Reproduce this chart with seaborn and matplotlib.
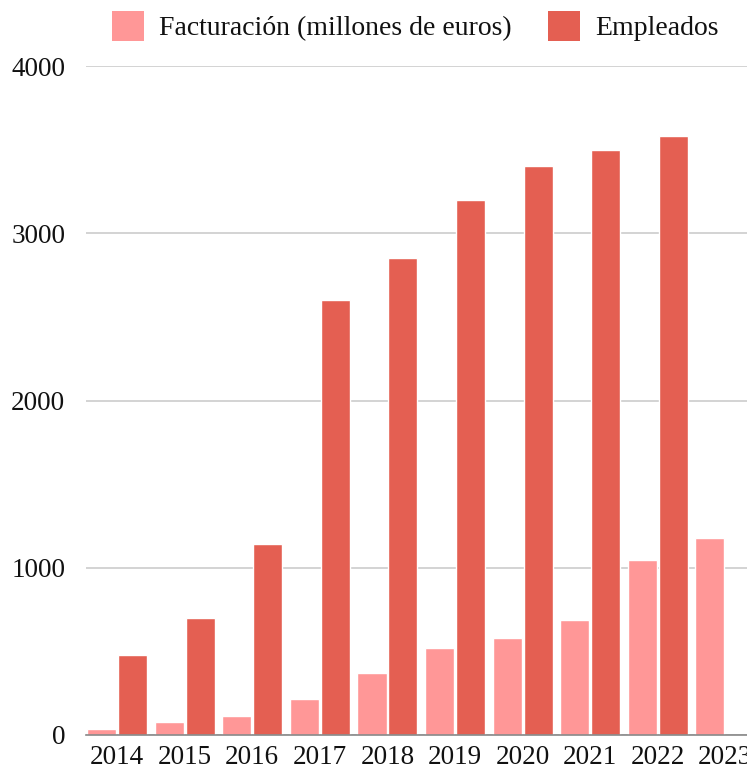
import numpy as np
import pandas as pd
import matplotlib
matplotlib.use("Agg")
import matplotlib.pyplot as plt
import seaborn as sns
from matplotlib.patches import Patch

years = ["2014", "2015", "2016", "2017", "2018", "2019", "2020", "2021", "2022", "2023"]
facturacion = [35, 75, 115, 215, 370, 520, 580, 690, 1045, 1180]
empleados = [480, 700, 1140, 2600, 2855, 3200, 3400, 3500, 3580, np.nan]
series_names = ["Facturación (millones de euros)", "Empleados"]
colors = ["#FF9797", "#E45F52"]
yticks = [0, 1000, 2000, 3000, 4000]

df = pd.DataFrame({
    "year": years * 2,
    "value": facturacion + empleados,
    "serie": [series_names[0]] * len(years) + [series_names[1]] * len(years),
})

sns.set_theme(style="white")
plt.rcParams["font.family"] = ["Liberation Serif", "DejaVu Serif"]

W, H = 747, 769
fig = plt.figure(figsize=(W / 100, H / 100), dpi=100)
ax = fig.add_axes([86 / W, (H - 735) / H, (W - 86) / W, (735 - 66) / H])

sns.barplot(data=df, x="year", y="value", hue="serie", order=years,
            hue_order=series_names, palette=colors, width=0.917, gap=0.06,
            saturation=1, ax=ax, legend=False, err_kws={"linewidth": 0})

ax.set_ylim(0, 4000)
ax.set_xlim(-0.46, 9.32)
ax.set_yticks(yticks)
ax.set_yticklabels([str(v) for v in yticks])
ax.grid(axis="y", color="#cccccc", linewidth=1.2)
ax.set_axisbelow(True)
for s in ["top", "right", "left"]:
    ax.spines[s].set_visible(False)
ax.spines["bottom"].set_color("#888888")
ax.spines["bottom"].set_linewidth(1.2)
ax.set_xlabel("")
ax.set_ylabel("")
ax.tick_params(axis="y", length=0, pad=15, labelsize=19.5, labelcolor="#111111")
ax.tick_params(axis="x", length=0, pad=7, labelsize=19.5, labelcolor="#111111")

handles = [Patch(facecolor=c, edgecolor="none", label=n) for c, n in zip(colors, series_names)]
fig.legend(handles=handles, loc="center", bbox_to_anchor=(415.5 / W, 1 - 26 / H),
           ncol=2, frameon=False, fontsize=20, handlelength=1.15, handleheight=1.3,
           handletextpad=0.55, columnspacing=1.3, borderpad=0, labelcolor="#111111")

fig.savefig("out.png", dpi=100)
